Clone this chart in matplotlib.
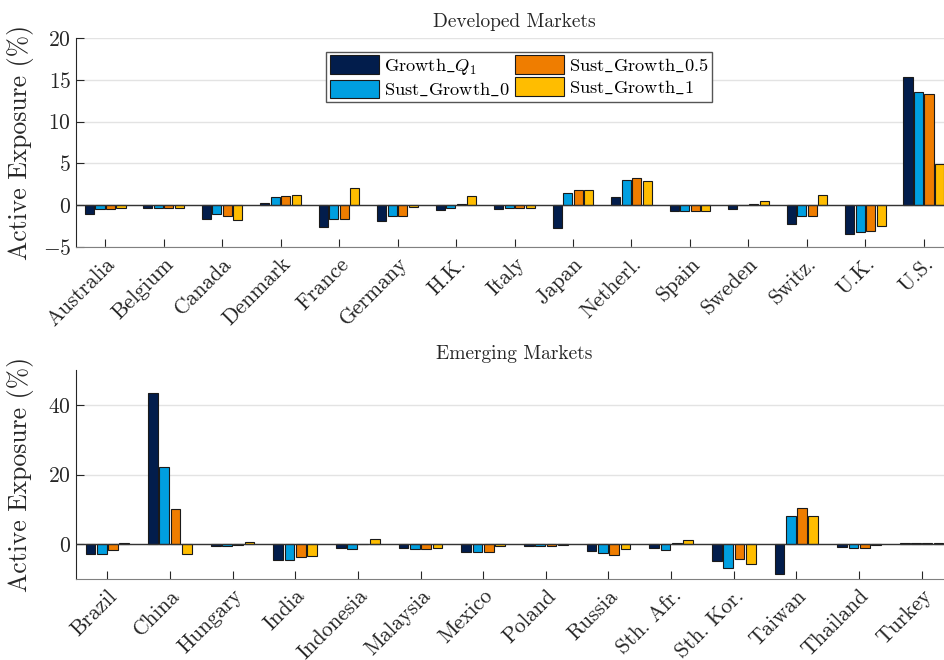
import numpy as np
import matplotlib
matplotlib.use("Agg")
import matplotlib.pyplot as plt
from matplotlib.patches import Patch

plt.rcParams["font.family"] = "serif"
plt.rcParams["font.serif"] = ["cmr10"]
plt.rcParams["mathtext.fontset"] = "cm"
plt.rcParams["axes.formatter.use_mathtext"] = True

series_names = [r"Growth$\_Q_1$", r"Sust$\_$Growth$\_$0", r"Sust$\_$Growth$\_$0.5", r"Sust$\_$Growth$\_$1"]
colors = ["#021d4c", "#009fe0", "#ef7d00", "#ffbd00"]

dev_countries = ["Australia", "Belgium", "Canada", "Denmark", "France", "Germany", "H.K.",
                 "Italy", "Japan", "Netherl.", "Spain", "Sweden", "Switz.", "U.K.", "U.S."]
dev_growth_q1 = [-1.0, -0.3, -1.7, 0.3, -2.6, -1.9, -0.6, -0.5, -2.7, 1.0, -0.7, -0.5, -2.3, -3.4, 15.3]
dev_sust_0 = [-0.5, -0.3, -1.1, 1.0, -1.7, -1.3, -0.35, -0.3, 1.5, 3.0, -0.7, 0.05, -1.3, -3.15, 13.5]
dev_sust_05 = [-0.4, -0.3, -1.25, 1.1, -1.6, -1.3, 0.2, -0.3, 1.8, 3.3, -0.7, 0.1, -1.3, -3.1, 13.3]
dev_sust_1 = [-0.3, -0.3, -1.8, 1.2, 2.0, -0.2, 1.1, -0.3, 1.8, 2.9, -0.7, 0.55, 1.25, -2.5, 4.9]

em_countries = ["Brazil", "China", "Hungary", "India", "Indonesia", "Malaysia", "Mexico",
                "Poland", "Russia", "Sth. Afr.", "Sth. Kor.", "Taiwan", "Thailand", "Turkey"]
em_growth_q1 = [-2.7, 43.3, -0.5, -4.5, -1.2, -1.0, -2.2, -0.4, -2.1, -1.05, -4.7, -8.5, -0.9, 0.3]
em_sust_0 = [-2.8, 22.2, -0.5, -4.6, -1.4, -1.35, -2.2, -0.6, -2.4, -1.6, -6.9, 8.15, -1.1, 0.3]
em_sust_05 = [-1.8, 10.1, -0.2, -3.7, 0.0, -1.35, -2.2, -0.6, -3.0, 0.3, -4.2, 10.4, -1.1, 0.4]
em_sust_1 = [0.3, -2.9, 0.6, -3.4, 1.35, -1.2, -0.6, -0.2, -1.3, 1.15, -5.75, 8.0, -0.2, 0.2]

W, H = 945, 660
fig = plt.figure(figsize=(W / 100, H / 100), dpi=100)


def draw_panel(rect, cats, series, ylim, yticks, title):
    ax = fig.add_axes(rect)
    x = np.arange(len(cats))
    offsets = (np.arange(len(series)) - 1.5) * 0.18
    for k, vals in enumerate(series):
        ax.bar(x + offsets[k], vals, width=0.155, color=colors[k],
               edgecolor="#1a1a1a", linewidth=0.8, zorder=3)
    ax.axhline(0, color="#333333", linewidth=1.0, zorder=4)
    ax.set_xlim(-0.5, len(cats) - 0.5)
    ax.set_ylim(*ylim)
    ax.set_yticks(yticks)
    ax.set_xticks(x)
    ax.set_xticklabels(cats, rotation=45, ha="right", rotation_mode="anchor")
    ax.tick_params(axis="both", direction="in", labelsize=15.5, length=6, width=0.8, colors="#262626")
    ax.tick_params(axis="x", pad=5)
    ax.grid(axis="y", color="#e3e3e3", linewidth=1.0, zorder=0)
    ax.set_axisbelow(True)
    for s in ("top", "right"):
        ax.spines[s].set_visible(False)
    ax.spines["left"].set_color("#262626")
    ax.spines["bottom"].set_color("#808080")
    ax.set_ylabel("Active Exposure (%)", fontsize=18.5, color="#262626")
    ax.yaxis.set_label_coords(-0.048, 0.5)
    ax.set_title(title, fontsize=14, pad=8, color="#262626")
    return ax


left = 76 / W
width = (953 - 76) / W
ax1 = draw_panel([left, 1 - 247 / H, width, 209 / H], dev_countries,
                 [dev_growth_q1, dev_sust_0, dev_sust_05, dev_sust_1],
                 (-5, 20), [-5, 0, 5, 10, 15, 20], "Developed Markets")
ax2 = draw_panel([left, 1 - 579 / H, width, 209 / H], em_countries,
                 [em_growth_q1, em_sust_0, em_sust_05, em_sust_1],
                 (-10, 50), [0, 20, 40], "Emerging Markets")

handles = [Patch(facecolor=c, edgecolor="#1a1a1a", linewidth=0.8) for c in colors]
leg = ax1.legend(handles, series_names, ncol=2, loc="upper left",
                 bbox_to_anchor=(0.285, 0.935), borderaxespad=0, fontsize=13.2,
                 frameon=True, fancybox=False, framealpha=1, edgecolor="#555555",
                 handlelength=2.7, handleheight=1.2, handletextpad=0.25,
                 columnspacing=0.3, labelspacing=0.15, borderpad=0.2)
leg.get_frame().set_linewidth(1.0)

fig.savefig("out.png", dpi=100)
